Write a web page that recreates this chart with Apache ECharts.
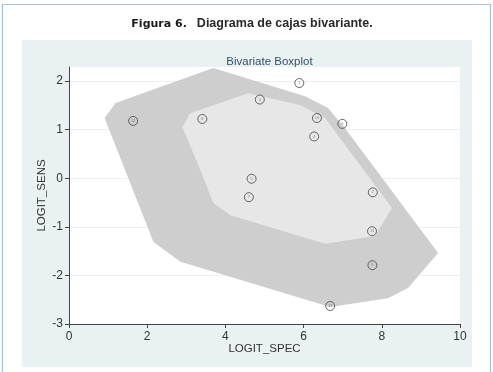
<!DOCTYPE html>
<html>
<head>
<meta charset="utf-8">
<script src="https://cdn.jsdelivr.net/npm/echarts@6/dist/echarts.min.js"></script>
<style>
  html, body { margin: 0; padding: 0; background: #fff; }
  #chart { width: 493px; height: 372px; }
</style>
</head>
<body>
<div id="chart"></div>
<script>
// observations (LOGIT_SPEC, LOGIT_SENS) and their study numbers
var pointsX = [5.89, 4.88, 1.64, 3.41, 6.34, 6.99, 6.27, 4.67, 4.60, 7.77, 7.75, 7.76, 6.68];
var pointsY = [1.96, 1.62, 1.18, 1.22, 1.24, 1.12, 0.86, -0.01, -0.39, -0.29, -1.09, -1.79, -2.63];
var pointLabels = ['1', '3', '12', '8', '10', '6', '4', '5', '7', '2', '11', '9', '13'];

// fence (outer) and hinge (inner) hull vertices
var outerHull = [
    [0.91, 1.24], [1.19, 1.55], [3.69, 2.27], [6.04, 1.69], [6.63, 1.44], [7.06, 1.03],
    [9.44, -1.54], [8.67, -2.26], [8.16, -2.47], [6.68, -2.65], [2.85, -1.72], [2.16, -1.31]
];
var innerHull = [
    [2.90, 1.05], [3.10, 1.34], [4.58, 1.75], [5.91, 1.51], [6.55, 1.24], [7.01, 0.74],
    [8.26, -0.61], [7.83, -1.19], [6.55, -1.35], [4.13, -0.76], [3.69, -0.51], [3.36, 0.17]
];

var xTicks = [0, 2, 4, 6, 8, 10];
var yTicks = [-3, -2, -1, 0, 1, 2];

var font = '"Liberation Sans", Arial, sans-serif';

function hullSeries(hull, fill) {
    return {
        type: 'custom',
        data: hull,
        encode: {x: 0, y: 1},
        silent: true,
        renderItem: function (params, api) {
            if (params.dataIndexInside !== 0) {
                return;
            }
            var pts = hull.map(function (p) {
                return api.coord(p);
            });
            return {
                type: 'polygon',
                shape: {points: pts},
                style: {fill: fill, stroke: null}
            };
        }
    };
}

var chart = echarts.init(document.getElementById('chart'));

var option = {
    animation: false,
    backgroundColor: '#fff',
    graphic: [{
        type: 'rect',
        z: -100,
        shape: {x: 2.5, y: 4.5, width: 488, height: 420},
        style: {fill: '#fff', stroke: '#a3c2d8', lineWidth: 1.2}
    }, {
        type: 'rect',
        z: -99,
        shape: {x: 22, y: 40, width: 450, height: 327},
        style: {fill: '#eaf1f2'}
    }],
    title: [{
        text: '{b|Figura 6.}  {n|Diagrama de cajas bivariante.}',
        left: 247,
        top: 10,
        textAlign: 'center',
        textStyle: {
            rich: {
                b: {fontFamily: '"DejaVu Sans", sans-serif', fontWeight: 'bold', fontSize: 11, color: '#1a1a1a'},
                n: {fontFamily: font, fontWeight: 'bold', fontSize: 12.5, color: '#2a2a2a'}
            }
        }
    }, {
        text: 'Bivariate Boxplot',
        left: 264.5,
        top: 51,
        textAlign: 'center',
        textStyle: {fontFamily: font, fontWeight: 'normal', fontSize: 11.5, color: '#34506e'}
    }],
    grid: {
        left: 69, right: 33, top: 67, bottom: 48,
        show: true,
        backgroundColor: '#fff',
        borderWidth: 0
    },
    xAxis: {
        type: 'value',
        min: 0, max: 10, interval: 2,
        name: 'LOGIT_SPEC',
        nameLocation: 'middle',
        nameGap: 19,
        nameMoveOverlap: false,
        nameTextStyle: {fontFamily: font, fontSize: 11.5, color: '#333'},
        axisLine: {onZero: false, lineStyle: {color: '#444', width: 1}},
        axisTick: {show: true, length: 4, lineStyle: {color: '#444'}},
        axisLabel: {fontFamily: font, fontSize: 12, color: '#333', margin: 7},
        splitLine: {show: false}
    },
    yAxis: {
        type: 'value',
        min: -3, max: 2.29, interval: 1,
        name: 'LOGIT_SENS',
        nameLocation: 'middle',
        nameGap: 21,
        nameMoveOverlap: false,
        nameTextStyle: {fontFamily: font, fontSize: 11.5, color: '#333'},
        axisLine: {onZero: false, lineStyle: {color: '#444', width: 1}},
        axisTick: {show: true, length: 4, customValues: yTicks, lineStyle: {color: '#444'}},
        axisLabel: {
            fontFamily: font, fontSize: 12, color: '#333', margin: 6,
            customValues: yTicks
        },
        splitLine: {show: true, lineStyle: {color: '#e8f0f1', width: 1}}
    },
    series: [
        hullSeries(outerHull, '#cecece'),
        hullSeries(innerHull, '#e7e7e7'),
        {
            type: 'scatter',
            symbol: 'circle',
            symbolSize: 9,
            data: pointsX.map(function (x, i) {
                return [x, pointsY[i], pointLabels[i]];
            }),
            itemStyle: {color: 'rgba(0,0,0,0)', borderColor: '#444', borderWidth: 1},
            label: {
                show: true,
                position: 'inside',
                formatter: function (p) {
                    return p.data[2];
                },
                fontFamily: font,
                fontSize: 4,
                color: '#666'
            },
            silent: true
        }
    ]
};

chart.setOption(option);
</script>
</body>
</html>
